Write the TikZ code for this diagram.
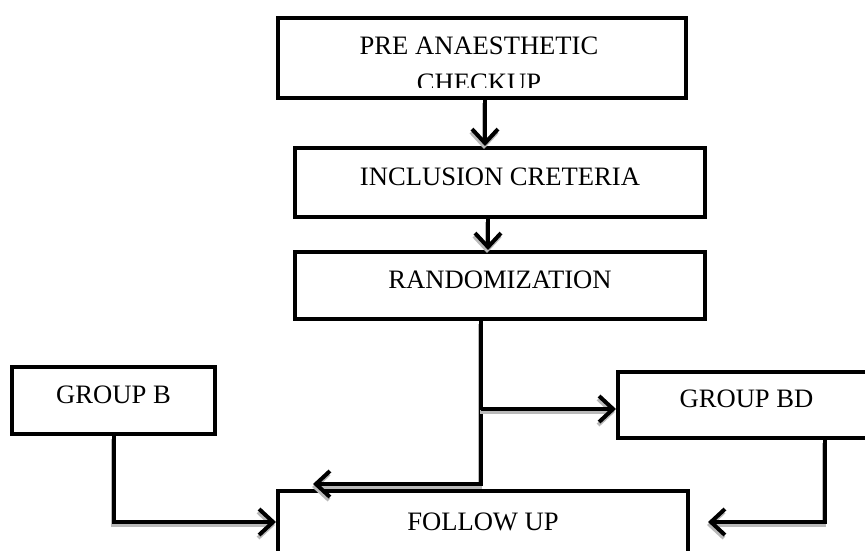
\documentclass[tikz,border=0pt]{standalone}
\usepackage{fontspec}
\setmainfont{Liberation Serif}
\usetikzlibrary{arrows.meta}
\begin{document}
\begin{tikzpicture}[x=1pt,y=-1pt,
  every node/.style={font=\fontsize{26.6}{37}\selectfont},
  box/.style={draw=black, line width=4pt, rectangle, inner sep=0pt,
              text height=18pt, text depth=13pt},
  conn/.style={line width=4pt, -{Straight Barb[length=14pt,width=26pt]},
     preaction={draw=gray!55, line width=4pt, -{Straight Barb[length=14pt,width=26pt]},
                transform canvas={xshift=-1pt,yshift=-3pt}}}]
\useasboundingbox (0,0) rectangle (865,551);
\fill[white] (0,0) rectangle (865,551);

% top box with clipped two-line text
\begin{scope}
  \clip (278,18) rectangle (686,88);
  \node[anchor=base, inner sep=0pt] (pacA) at (479,55) {PRE ANAESTHETIC};
  \node[anchor=base, inner sep=0pt] (pacB) at (479,92) {CHECKUP};
\end{scope}
\node[draw=black, line width=4pt, rectangle, inner sep=0pt,
      minimum width=408pt, minimum height=80pt] (pac) at (482,58) {};

\node[box, minimum width=410pt, minimum height=69pt] (inc) at (500,182.5) {INCLUSION CRETERIA};
\node[box, minimum width=410pt, minimum height=67pt] (rnd) at (500,285.5) {RANDOMIZATION};
\node[box, minimum width=203pt, minimum height=67pt] (gb) at (113.5,400.5) {GROUP B};
\node[box, minimum width=257pt, minimum height=66pt] (gbd) at (746.5,405) {GROUP BD};
\node[box, text depth=2pt, minimum width=410pt, minimum height=62pt] (fu) at (483,522) {FOLLOW UP};

\coordinate (fuin) at (313,484);
\coordinate (br) at (481,409);

\draw[conn] ([xshift=3pt]pac.south) -- ([xshift=3pt]pac.south |- inc.north);
\draw[conn] ([xshift=-12pt]inc.south) -- ([xshift=-12pt]rnd.north);
\draw[conn] ([xshift=-19pt]rnd.south) |- (fuin);
\draw[conn] (br) -- (br -| gbd.west);
\draw[conn] (gb.south) |- (fu.west);
\draw[conn] ([xshift=78pt]gbd.south) |- ([xshift=18pt]fu.east);
\end{tikzpicture}
\end{document}
